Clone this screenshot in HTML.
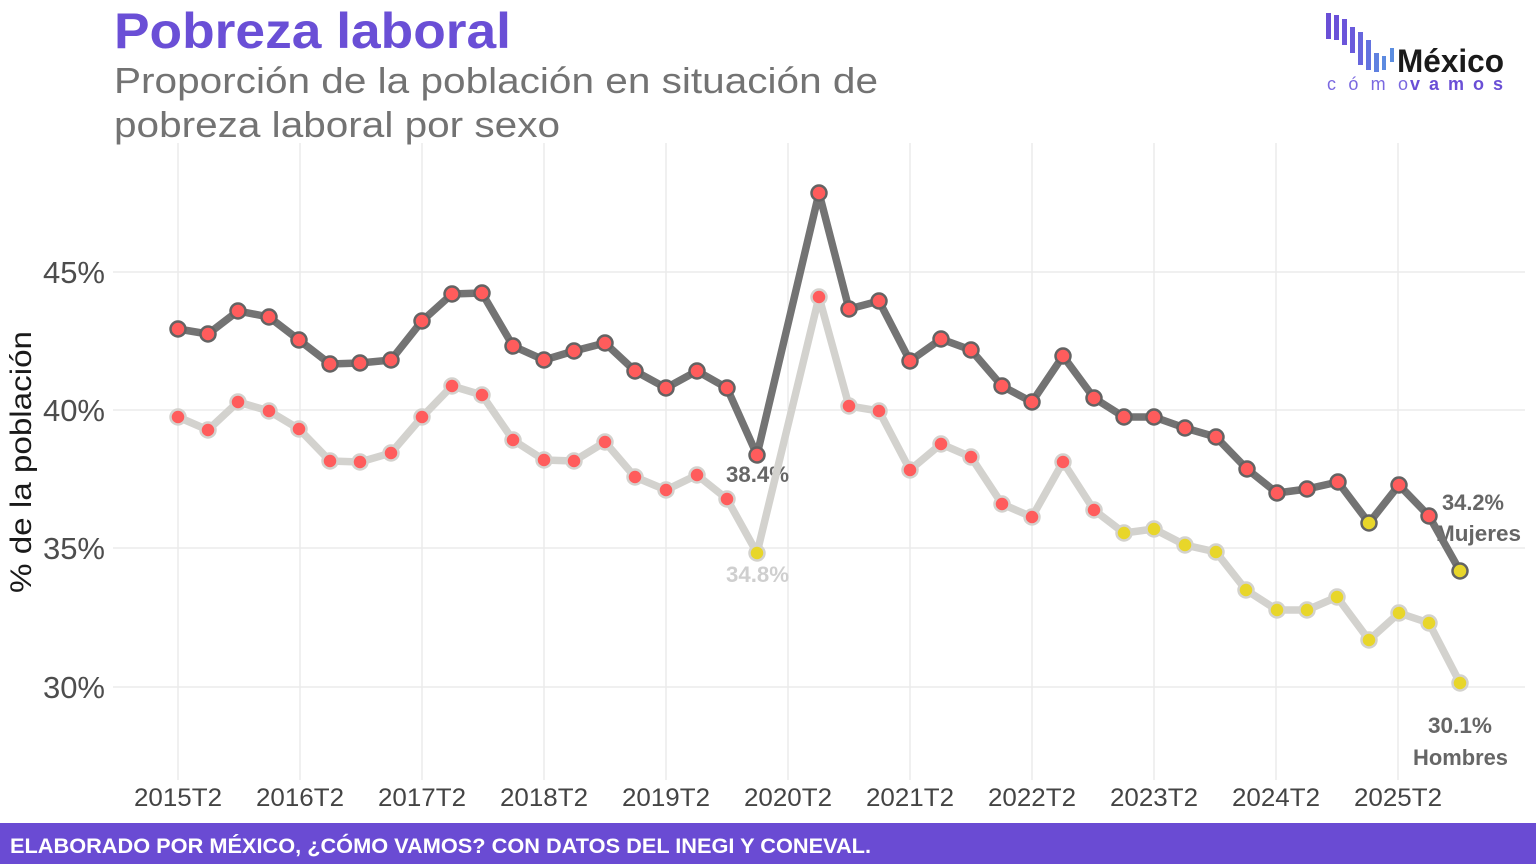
<!DOCTYPE html>
<html>
<head>
<meta charset="utf-8">
<style>
html,body{margin:0;padding:0;background:#fff;}
svg{display:block;}
text{font-family:"Liberation Sans",sans-serif;}
</style>
</head>
<body>
<svg width="1536" height="864" viewBox="0 0 1536 864" xmlns="http://www.w3.org/2000/svg">
<rect width="1536" height="864" fill="#fff"/>
<!-- Title -->
<text x="114" y="48" font-size="50" font-weight="bold" fill="#6a4fd6" textLength="397" lengthAdjust="spacingAndGlyphs">Pobreza laboral</text>
<text x="114" y="93" font-size="36" fill="#737373" textLength="764" lengthAdjust="spacingAndGlyphs">Proporción de la población en situación de</text>
<text x="114" y="137" font-size="36" fill="#737373" textLength="446" lengthAdjust="spacingAndGlyphs">pobreza laboral por sexo</text>

<!-- Logo -->
<g>
<rect x="1326" y="13" width="5" height="26" fill="#6a4fd6"/>
<rect x="1334" y="15" width="5" height="25" fill="#6a50d8"/>
<rect x="1342" y="19" width="5" height="26" fill="#6b55da"/>
<rect x="1350" y="27" width="5" height="26" fill="#6a5bdc"/>
<rect x="1358" y="32" width="5" height="33" fill="#6766dd"/>
<rect x="1366" y="40" width="5" height="30" fill="#6373df"/>
<rect x="1374" y="53" width="5" height="19" fill="#5f80e0"/>
<rect x="1382" y="56" width="4" height="14" fill="#5c8ae0"/>
<rect x="1390" y="48" width="4" height="14" fill="#5b8de0"/>
<text x="1397" y="72" font-size="32" font-weight="bold" fill="#1a1a1a" textLength="107" lengthAdjust="spacingAndGlyphs">México</text>
<text x="1327" y="90" font-size="18" fill="#7a68e0" textLength="81" lengthAdjust="spacing">cómo</text>
<text x="1410" y="90" font-size="18" font-weight="bold" fill="#6a4fd6" textLength="93" lengthAdjust="spacing">vamos</text>
</g>

<!-- Grid -->
<g stroke="#ebebeb" stroke-width="1.5">
<line x1="113" y1="272" x2="1525" y2="272"/>
<line x1="113" y1="410" x2="1525" y2="410"/>
<line x1="113" y1="548" x2="1525" y2="548"/>
<line x1="113" y1="687" x2="1525" y2="687"/>
<line x1="178" y1="143" x2="178" y2="780"/>
<line x1="300" y1="143" x2="300" y2="780"/>
<line x1="422" y1="143" x2="422" y2="780"/>
<line x1="544" y1="143" x2="544" y2="780"/>
<line x1="666" y1="143" x2="666" y2="780"/>
<line x1="788" y1="143" x2="788" y2="780"/>
<line x1="910" y1="143" x2="910" y2="780"/>
<line x1="1032" y1="143" x2="1032" y2="780"/>
<line x1="1154" y1="143" x2="1154" y2="780"/>
<line x1="1276" y1="143" x2="1276" y2="780"/>
<line x1="1398" y1="143" x2="1398" y2="780"/>
</g>

<!-- Y tick labels -->
<g font-size="31" fill="#4d4d4d" text-anchor="end">
<text x="105" y="283">45%</text>
<text x="105" y="421">40%</text>
<text x="105" y="559">35%</text>
<text x="105" y="698">30%</text>
</g>
<text transform="translate(31,462) rotate(-90)" font-size="30" fill="#1a1a1a" text-anchor="middle" textLength="262" lengthAdjust="spacingAndGlyphs">% de la población</text>

<!-- X tick labels -->
<g font-size="25" fill="#444" text-anchor="middle">
<text x="178" y="806" textLength="88" lengthAdjust="spacingAndGlyphs">2015T2</text>
<text x="300" y="806" textLength="88" lengthAdjust="spacingAndGlyphs">2016T2</text>
<text x="422" y="806" textLength="88" lengthAdjust="spacingAndGlyphs">2017T2</text>
<text x="544" y="806" textLength="88" lengthAdjust="spacingAndGlyphs">2018T2</text>
<text x="666" y="806" textLength="88" lengthAdjust="spacingAndGlyphs">2019T2</text>
<text x="788" y="806" textLength="88" lengthAdjust="spacingAndGlyphs">2020T2</text>
<text x="910" y="806" textLength="88" lengthAdjust="spacingAndGlyphs">2021T2</text>
<text x="1032" y="806" textLength="88" lengthAdjust="spacingAndGlyphs">2022T2</text>
<text x="1154" y="806" textLength="88" lengthAdjust="spacingAndGlyphs">2023T2</text>
<text x="1276" y="806" textLength="88" lengthAdjust="spacingAndGlyphs">2024T2</text>
<text x="1398" y="806" textLength="88" lengthAdjust="spacingAndGlyphs">2025T2</text>
</g>

<!-- Labels (under lines) -->
<g font-size="22" font-weight="bold">
<text x="1442" y="510" fill="#666" textLength="62" lengthAdjust="spacingAndGlyphs">34.2%</text>
<text x="1436" y="541" fill="#666" textLength="85" lengthAdjust="spacingAndGlyphs">Mujeres</text>
<text x="1428" y="733" fill="#666" textLength="64" lengthAdjust="spacingAndGlyphs">30.1%</text>
<text x="1413" y="765" fill="#666" textLength="95" lengthAdjust="spacingAndGlyphs">Hombres</text>
<text x="726" y="482" fill="#666" textLength="63" lengthAdjust="spacingAndGlyphs">38.4%</text>
<text x="726" y="582" fill="#cfcfcf" textLength="63" lengthAdjust="spacingAndGlyphs">34.8%</text>
</g>

<!-- Hombres line (light) -->
<polyline fill="none" stroke="#d3d2ce" stroke-width="7.5" stroke-linejoin="round" stroke-linecap="round"
points="178,417 208,430 238,402 269,411 299,429 330,461 360,462 391,453 422,417 452,386 482,395 513,440 544,460 574,461 605,442 635,477 666,490 697,475 727,499 757,553 819,297 849,406 879,411 910,470 941,444 971,457 1002,504 1032,517 1063,462 1094,510 1124,533 1154,529 1185,545 1216,552 1246,590 1277,610 1307,610 1337,597 1369,640 1399,613 1429,623 1460,683"/>
<g stroke="#d3d2ce" stroke-width="2.5" fill="#ff5c5c">
<circle cx="178" cy="417" r="7.5"/><circle cx="208" cy="430" r="7.5"/><circle cx="238" cy="402" r="7.5"/><circle cx="269" cy="411" r="7.5"/><circle cx="299" cy="429" r="7.5"/><circle cx="330" cy="461" r="7.5"/><circle cx="360" cy="462" r="7.5"/><circle cx="391" cy="453" r="7.5"/><circle cx="422" cy="417" r="7.5"/><circle cx="452" cy="386" r="7.5"/><circle cx="482" cy="395" r="7.5"/><circle cx="513" cy="440" r="7.5"/><circle cx="544" cy="460" r="7.5"/><circle cx="574" cy="461" r="7.5"/><circle cx="605" cy="442" r="7.5"/><circle cx="635" cy="477" r="7.5"/><circle cx="666" cy="490" r="7.5"/><circle cx="697" cy="475" r="7.5"/><circle cx="727" cy="499" r="7.5"/>
<circle cx="819" cy="297" r="7.5"/><circle cx="849" cy="406" r="7.5"/><circle cx="879" cy="411" r="7.5"/><circle cx="910" cy="470" r="7.5"/><circle cx="941" cy="444" r="7.5"/><circle cx="971" cy="457" r="7.5"/><circle cx="1002" cy="504" r="7.5"/><circle cx="1032" cy="517" r="7.5"/><circle cx="1063" cy="462" r="7.5"/><circle cx="1094" cy="510" r="7.5"/>
</g>
<g stroke="#d3d2ce" stroke-width="2.5" fill="#e8d62a">
<circle cx="757" cy="553" r="7.5"/>
<circle cx="1124" cy="533" r="7.5"/><circle cx="1154" cy="529" r="7.5"/><circle cx="1185" cy="545" r="7.5"/><circle cx="1216" cy="552" r="7.5"/><circle cx="1246" cy="590" r="7.5"/><circle cx="1277" cy="610" r="7.5"/><circle cx="1307" cy="610" r="7.5"/><circle cx="1337" cy="597" r="7.5"/><circle cx="1369" cy="640" r="7.5"/><circle cx="1399" cy="613" r="7.5"/><circle cx="1429" cy="623" r="7.5"/><circle cx="1460" cy="683" r="7.5"/>
</g>

<!-- Mujeres line (dark) -->
<polyline fill="none" stroke="#737373" stroke-width="7.5" stroke-linejoin="round" stroke-linecap="round"
points="178,329 208,334 238,311 269,317 299,340 330,364 360,363 391,360 422,321 452,294 482,293 513,346 544,360 574,351 605,343 635,371 666,388 697,371 727,388 757,455 819,193 849,309 879,301 910,361 941,339 971,350 1002,386 1032,402 1063,356 1094,398 1124,417 1154,417 1185,428 1216,437 1247,469 1277,493 1307,489 1338,482 1369,523 1399,485 1429,516 1460,571"/>
<g stroke="#636363" stroke-width="2.5" fill="#ff5c5c">
<circle cx="178" cy="329" r="7.5"/><circle cx="208" cy="334" r="7.5"/><circle cx="238" cy="311" r="7.5"/><circle cx="269" cy="317" r="7.5"/><circle cx="299" cy="340" r="7.5"/><circle cx="330" cy="364" r="7.5"/><circle cx="360" cy="363" r="7.5"/><circle cx="391" cy="360" r="7.5"/><circle cx="422" cy="321" r="7.5"/><circle cx="452" cy="294" r="7.5"/><circle cx="482" cy="293" r="7.5"/><circle cx="513" cy="346" r="7.5"/><circle cx="544" cy="360" r="7.5"/><circle cx="574" cy="351" r="7.5"/><circle cx="605" cy="343" r="7.5"/><circle cx="635" cy="371" r="7.5"/><circle cx="666" cy="388" r="7.5"/><circle cx="697" cy="371" r="7.5"/><circle cx="727" cy="388" r="7.5"/><circle cx="757" cy="455" r="7.5"/>
<circle cx="819" cy="193" r="7.5"/><circle cx="849" cy="309" r="7.5"/><circle cx="879" cy="301" r="7.5"/><circle cx="910" cy="361" r="7.5"/><circle cx="941" cy="339" r="7.5"/><circle cx="971" cy="350" r="7.5"/><circle cx="1002" cy="386" r="7.5"/><circle cx="1032" cy="402" r="7.5"/><circle cx="1063" cy="356" r="7.5"/><circle cx="1094" cy="398" r="7.5"/><circle cx="1124" cy="417" r="7.5"/><circle cx="1154" cy="417" r="7.5"/><circle cx="1185" cy="428" r="7.5"/><circle cx="1216" cy="437" r="7.5"/><circle cx="1247" cy="469" r="7.5"/><circle cx="1277" cy="493" r="7.5"/><circle cx="1307" cy="489" r="7.5"/><circle cx="1338" cy="482" r="7.5"/><circle cx="1399" cy="485" r="7.5"/><circle cx="1429" cy="516" r="7.5"/>
</g>
<g stroke="#636363" stroke-width="2.5" fill="#e8d62a">
<circle cx="1369" cy="523" r="7.5"/><circle cx="1460" cy="571" r="7.5"/>
</g>

<!-- Footer -->
<rect x="0" y="823" width="1536" height="41" fill="#6a4bd3"/>
<text x="10" y="853" font-size="21" font-weight="bold" fill="#fff" textLength="861" lengthAdjust="spacingAndGlyphs">ELABORADO POR MÉXICO, ¿CÓMO VAMOS? CON DATOS DEL INEGI Y CONEVAL.</text>
</svg>
</body>
</html>
